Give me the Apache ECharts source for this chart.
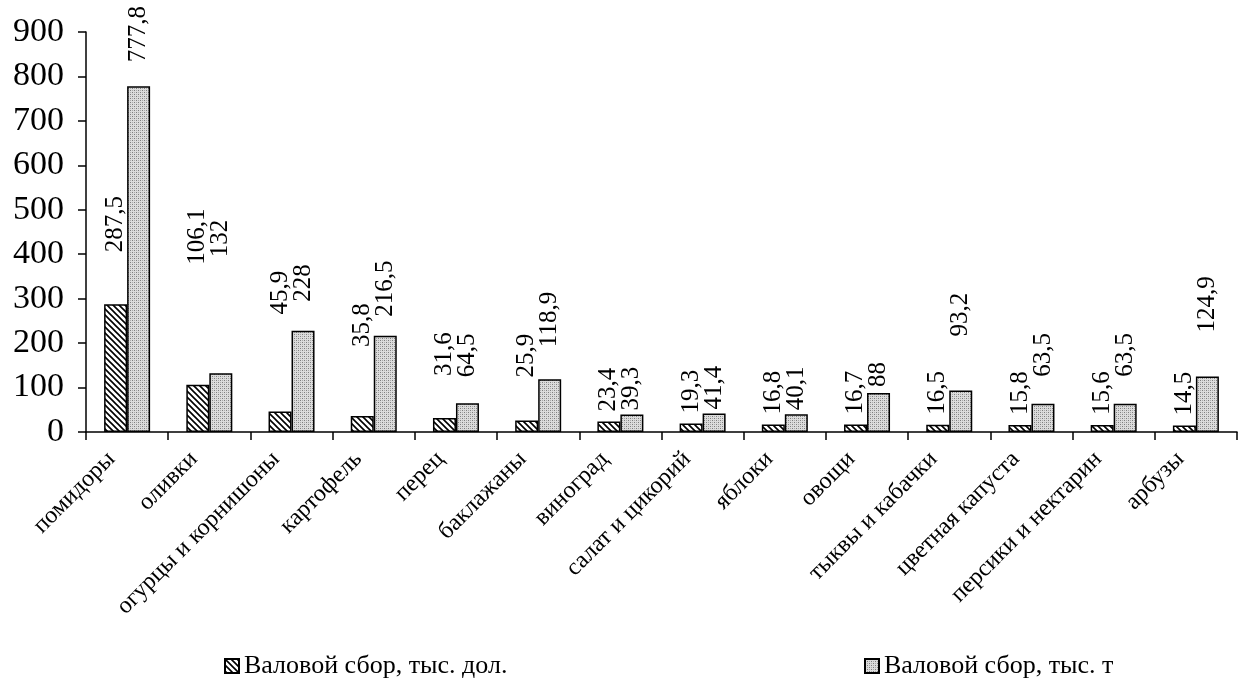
<!DOCTYPE html>
<html><head><meta charset="utf-8">
<script src="https://cdn.jsdelivr.net/npm/echarts@6/dist/echarts.min.js"></script>
<style>html,body{margin:0;padding:0;background:#fff}#c{width:1243px;height:697px}</style>
</head><body><div id="c"></div>
<script>
const categories = ['помидоры','оливки','огурцы и корнишоны','картофель','перец','баклажаны','виноград','салат и цикорий','яблоки','овощи','тыквы и кабачки','цветная капуста','персики и нектарин','арбузы'];
const seriesNames = ['Валовой сбор, тыс. дол.','Валовой сбор, тыс. т'];
const valuesDol = [287.5,106.1,45.9,35.8,31.6,25.9,23.4,19.3,16.8,16.7,16.5,15.8,15.6,14.5];
const valuesT = [777.8,132,228,216.5,64.5,118.9,39.3,41.4,40.1,88,93.2,63.5,63.5,124.9];
const yTicks = [0,100,200,300,400,500,600,700,800,900];

// label lift above each bar (px), styling only
const liftDol = [52,120,97,69,42,43,10,10,10,10,10,10,10,10];
const liftT   = [24,116,29,19,26,32,4,4,4,6,54,27,27,44];

function hatch(){
  const c=document.createElement('canvas');c.width=6;c.height=6;const g=c.getContext('2d');
  g.fillStyle='#fff';g.fillRect(0,0,6,6);
  g.strokeStyle='#000';g.lineWidth=1.6;
  g.beginPath();
  for(let k=-2;k<=2;k++){g.moveTo(k*6-1,-1);g.lineTo(k*6+7,7);}
  g.stroke();return c;
}
function dots(){
  const c=document.createElement('canvas');c.width=4;c.height=4;const g=c.getContext('2d');
  g.fillStyle='#dcdcdc';g.fillRect(0,0,4,4);
  g.fillStyle='#7e7e7e';
  g.fillRect(0,0,1,1);g.fillRect(2,2,1,1);
  g.fillStyle='#aaaaaa';
  g.fillRect(2,0,1,1);g.fillRect(0,2,1,1);
  return c;
}
const font='"Liberation Serif","Times New Roman",serif';
const fmt=p=>String(p.value).replace('.',',');
const labelBase={show:true,position:'top',rotate:90,align:'left',verticalAlign:'middle',
  fontFamily:font,fontSize:25,color:'#000',formatter:fmt};
const chart=echarts.init(document.getElementById('c'));
const legendText={fontFamily:font,fontSize:26,color:'#000'};
chart.setOption({
  animation:false,
  backgroundColor:'#fff',
  textStyle:{fontFamily:font,color:'#000'},
  grid:{left:86,right:6,top:32,bottom:265,containLabel:false},
  legend:[
    {data:[seriesNames[0]],left:219,top:648,icon:'rect',itemWidth:14,itemHeight:14,itemGap:4,textStyle:legendText},
    {data:[seriesNames[1]],left:859,top:648,icon:'rect',itemWidth:14,itemHeight:14,itemGap:4,textStyle:legendText}
  ],
  xAxis:{type:'category',data:categories,
    axisLine:{lineStyle:{color:'#000',width:1.5}},
    axisTick:{show:true,length:8,lineStyle:{color:'#000',width:1.5}},
    axisLabel:{rotate:45,fontFamily:font,fontSize:24,color:'#000',margin:8,interval:0,padding:[0,22,0,0]}},
  yAxis:{type:'value',min:0,max:900,interval:100,
    axisLine:{show:true,lineStyle:{color:'#000',width:1.5}},
    axisTick:{show:true,length:8,lineStyle:{color:'#000',width:1.5}},
    splitLine:{show:false},
    axisLabel:{fontFamily:font,fontSize:34,color:'#000',margin:22,
      formatter:v=>yTicks.includes(v)?String(v):''}},
  series:[
    {name:seriesNames[0],type:'bar',barWidth:23,barGap:'0%',
      data:valuesDol.map((v,i)=>({value:v,label:{distance:liftDol[i]}})),
      itemStyle:{color:{image:hatch(),repeat:'repeat'},borderColor:'#000',borderWidth:1.5},
      label:labelBase},
    {name:seriesNames[1],type:'bar',barWidth:23,barGap:'0%',
      data:valuesT.map((v,i)=>({value:v,label:{distance:liftT[i]}})),
      itemStyle:{color:{image:dots(),repeat:'repeat'},borderColor:'#000',borderWidth:1.5},
      label:labelBase}
  ]
});
</script></body></html>
